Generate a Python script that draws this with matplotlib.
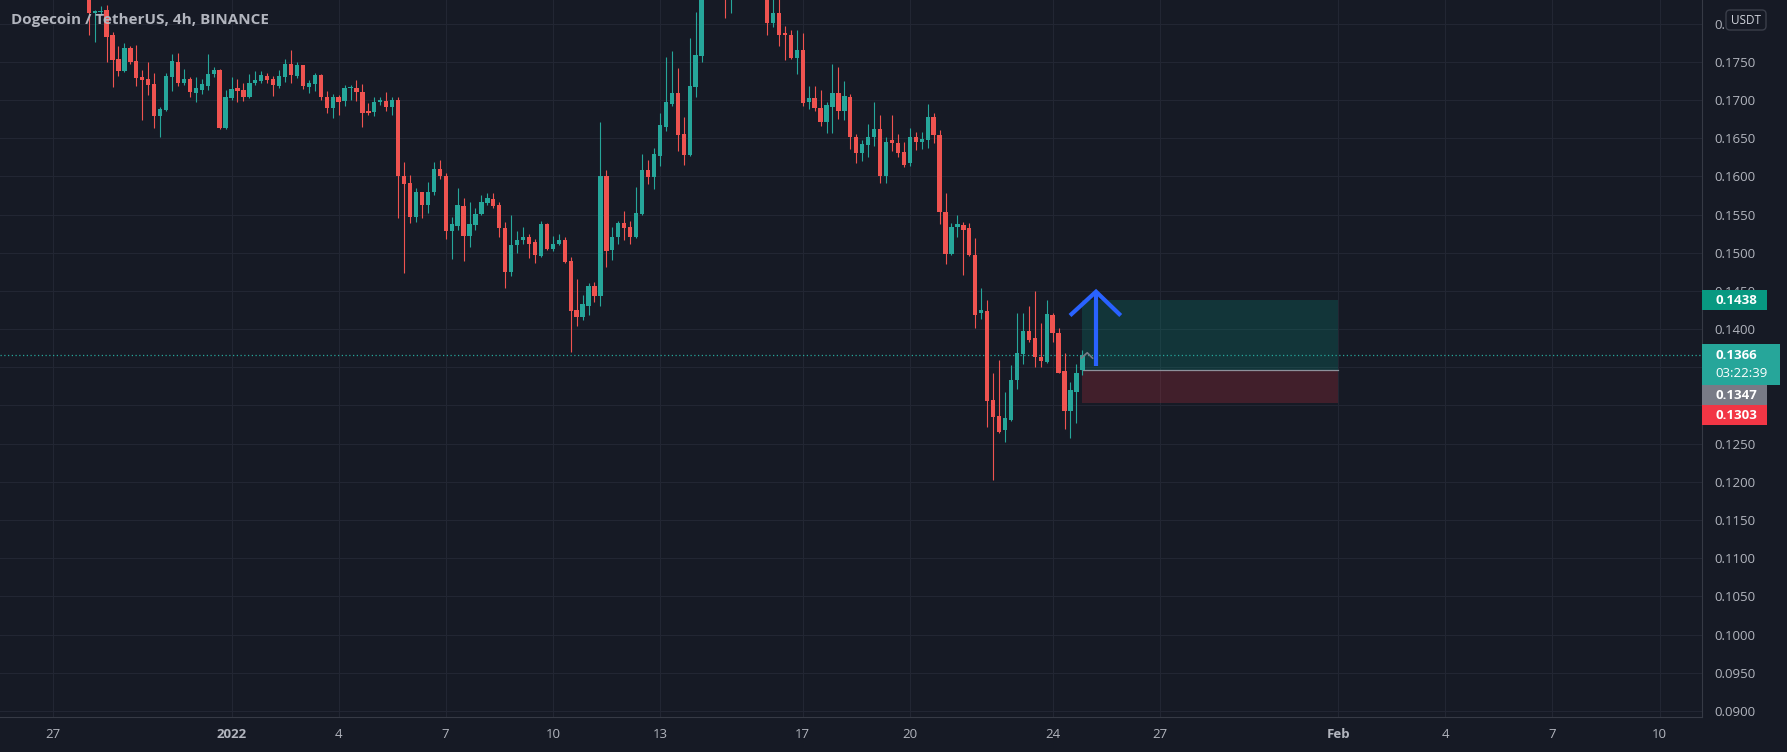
import numpy as np
import pandas as pd
import matplotlib
matplotlib.use("Agg")
import matplotlib.pyplot as plt
from matplotlib.patches import Rectangle, FancyBboxPatch

# ---------------- data (DOGE/USDT 4h, BINANCE) ----------------
first_bar = "2021-12-28 00:00"
opens = [0.1850, 0.1814, 0.1815, 0.1818, 0.1785, 0.1754, 0.1738, 0.1768, 0.1751, 0.1730,
         0.1727, 0.1721, 0.1679, 0.1687, 0.1730, 0.1750, 0.1722, 0.1727, 0.1709, 0.1713,
         0.1718, 0.1734, 0.1739, 0.1663, 0.1702, 0.1716, 0.1713, 0.1704, 0.1722, 0.1725,
         0.1731, 0.1727, 0.1718, 0.1730, 0.1747, 0.1731, 0.1746, 0.1717, 0.1721, 0.1733,
         0.1704, 0.1690, 0.1704, 0.1698, 0.1716, 0.1716, 0.1710, 0.1685, 0.1684, 0.1697,
         0.1699, 0.1691, 0.1700, 0.1600, 0.1591, 0.1547, 0.1580, 0.1562, 0.1579, 0.1610,
         0.1600, 0.1529, 0.1535, 0.1561, 0.1522, 0.1536, 0.1551, 0.1565, 0.1570, 0.1563,
         0.1532, 0.1475, 0.1510, 0.1516, 0.1520, 0.1514, 0.1496, 0.1538, 0.1505, 0.1512,
         0.1517, 0.1489, 0.1425, 0.1416, 0.1430, 0.1456, 0.1443, 0.1600, 0.1503, 0.1520,
         0.1539, 0.1533, 0.1520, 0.1551, 0.1608, 0.1599, 0.1627, 0.1665, 0.1695, 0.1709,
         0.1655, 0.1628, 0.1717, 0.1758, 0.1905, 0.1990, 0.1960, 0.1925, 0.1870, 0.1920,
         0.1900, 0.1930, 0.1910, 0.1880, 0.1870, 0.1801, 0.1814, 0.1787, 0.1785, 0.1755,
         0.1766, 0.1697, 0.1703, 0.1689, 0.1671, 0.1691, 0.1709, 0.1686, 0.1704, 0.1651,
         0.1631, 0.1641, 0.1652, 0.1662, 0.1600, 0.1648, 0.1643, 0.1632, 0.1617, 0.1651,
         0.1645, 0.1647, 0.1677, 0.1654, 0.1553, 0.1498, 0.1534, 0.1536, 0.1532, 0.1497,
         0.1421, 0.1424, 0.1307, 0.1286, 0.1268, 0.1281, 0.1333, 0.1367, 0.1398, 0.1388,
         0.1364, 0.1357, 0.1419, 0.1395, 0.1345, 0.1293, 0.1318, 0.1346]
highs = [0.1870, 0.1818, 0.1823, 0.1824, 0.1789, 0.1770, 0.1774, 0.1770, 0.1772, 0.1739,
         0.1750, 0.1735, 0.1691, 0.1735, 0.1760, 0.1761, 0.1740, 0.1730, 0.1730, 0.1727,
         0.1760, 0.1743, 0.1740, 0.1713, 0.1730, 0.1727, 0.1722, 0.1734, 0.1738, 0.1738,
         0.1735, 0.1731, 0.1739, 0.1753, 0.1765, 0.1750, 0.1746, 0.1726, 0.1735, 0.1734,
         0.1712, 0.1708, 0.1707, 0.1720, 0.1720, 0.1726, 0.1721, 0.1696, 0.1704, 0.1704,
         0.1711, 0.1704, 0.1704, 0.1619, 0.1602, 0.1585, 0.1580, 0.1593, 0.1619, 0.1621,
         0.1604, 0.1547, 0.1585, 0.1572, 0.1566, 0.1558, 0.1576, 0.1578, 0.1578, 0.1566,
         0.1540, 0.1550, 0.1528, 0.1534, 0.1525, 0.1518, 0.1541, 0.1539, 0.1522, 0.1524,
         0.1520, 0.1494, 0.1465, 0.1445, 0.1460, 0.1462, 0.1671, 0.1608, 0.1533, 0.1542,
         0.1555, 0.1541, 0.1586, 0.1629, 0.1621, 0.1637, 0.1683, 0.1756, 0.1764, 0.1742,
         0.1678, 0.1781, 0.1815, 0.1935, 0.2030, 0.2060, 0.1990, 0.1960, 0.1950, 0.1960,
         0.1950, 0.1970, 0.1940, 0.1920, 0.1890, 0.1840, 0.1840, 0.1797, 0.1792, 0.1791,
         0.1788, 0.1718, 0.1718, 0.1713, 0.1697, 0.1747, 0.1743, 0.1725, 0.1708, 0.1655,
         0.1647, 0.1668, 0.1697, 0.1680, 0.1652, 0.1680, 0.1655, 0.1645, 0.1663, 0.1658,
         0.1658, 0.1695, 0.1683, 0.1660, 0.1578, 0.1539, 0.1549, 0.1540, 0.1539, 0.1519,
         0.1454, 0.1438, 0.1343, 0.1360, 0.1317, 0.1353, 0.1421, 0.1421, 0.1430, 0.1450,
         0.1408, 0.1438, 0.1421, 0.1401, 0.1369, 0.1331, 0.1354, 0.1373]
lows = [0.1785, 0.1776, 0.1811, 0.1750, 0.1717, 0.1731, 0.1737, 0.1747, 0.1718, 0.1674,
        0.1707, 0.1663, 0.1652, 0.1686, 0.1712, 0.1718, 0.1720, 0.1704, 0.1697, 0.1708,
        0.1713, 0.1730, 0.1662, 0.1662, 0.1700, 0.1697, 0.1699, 0.1703, 0.1719, 0.1722,
        0.1722, 0.1705, 0.1715, 0.1723, 0.1722, 0.1729, 0.1714, 0.1709, 0.1712, 0.1700,
        0.1683, 0.1676, 0.1680, 0.1692, 0.1700, 0.1699, 0.1665, 0.1680, 0.1679, 0.1694,
        0.1685, 0.1680, 0.1545, 0.1473, 0.1539, 0.1540, 0.1545, 0.1552, 0.1576, 0.1597,
        0.1518, 0.1492, 0.1530, 0.1489, 0.1508, 0.1530, 0.1549, 0.1562, 0.1559, 0.1520,
        0.1454, 0.1470, 0.1500, 0.1512, 0.1493, 0.1487, 0.1495, 0.1503, 0.1502, 0.1510,
        0.1487, 0.1370, 0.1404, 0.1412, 0.1418, 0.1436, 0.1430, 0.1481, 0.1491, 0.1511,
        0.1516, 0.1512, 0.1519, 0.1549, 0.1590, 0.1583, 0.1614, 0.1659, 0.1692, 0.1633,
        0.1615, 0.1627, 0.1704, 0.1749, 0.1880, 0.1940, 0.1900, 0.1807, 0.1814, 0.1880,
        0.1870, 0.1900, 0.1860, 0.1850, 0.1785, 0.1796, 0.1770, 0.1752, 0.1753, 0.1734,
        0.1692, 0.1688, 0.1686, 0.1666, 0.1657, 0.1657, 0.1675, 0.1674, 0.1636, 0.1618,
        0.1620, 0.1625, 0.1640, 0.1591, 0.1591, 0.1633, 0.1625, 0.1612, 0.1613, 0.1635,
        0.1636, 0.1637, 0.1643, 0.1538, 0.1485, 0.1497, 0.1520, 0.1471, 0.1496, 0.1401,
        0.1413, 0.1272, 0.1202, 0.1264, 0.1252, 0.1280, 0.1322, 0.1354, 0.1383, 0.1350,
        0.1350, 0.1356, 0.1383, 0.1343, 0.1269, 0.1257, 0.1277, 0.1340]
closes = [0.1814, 0.1816, 0.1817, 0.1783, 0.1752, 0.1738, 0.1768, 0.1750, 0.1729, 0.1726,
          0.1719, 0.1679, 0.1688, 0.1731, 0.1751, 0.1722, 0.1727, 0.1711, 0.1715, 0.1721,
          0.1734, 0.1739, 0.1663, 0.1704, 0.1714, 0.1712, 0.1704, 0.1722, 0.1726, 0.1733,
          0.1726, 0.1720, 0.1731, 0.1747, 0.1733, 0.1746, 0.1718, 0.1722, 0.1733, 0.1704,
          0.1690, 0.1704, 0.1697, 0.1715, 0.1717, 0.1710, 0.1683, 0.1683, 0.1697, 0.1700,
          0.1691, 0.1700, 0.1600, 0.1590, 0.1547, 0.1580, 0.1563, 0.1580, 0.1610, 0.1600,
          0.1529, 0.1538, 0.1563, 0.1522, 0.1538, 0.1551, 0.1566, 0.1572, 0.1561, 0.1532,
          0.1475, 0.1510, 0.1517, 0.1520, 0.1512, 0.1497, 0.1538, 0.1505, 0.1512, 0.1517,
          0.1488, 0.1424, 0.1416, 0.1433, 0.1456, 0.1443, 0.1600, 0.1502, 0.1520, 0.1539,
          0.1532, 0.1520, 0.1552, 0.1608, 0.1599, 0.1629, 0.1667, 0.1697, 0.1709, 0.1654,
          0.1628, 0.1718, 0.1759, 0.1905, 0.1990, 0.1960, 0.1925, 0.1870, 0.1920, 0.1900,
          0.1930, 0.1910, 0.1880, 0.1870, 0.1801, 0.1814, 0.1785, 0.1785, 0.1755, 0.1766,
          0.1696, 0.1702, 0.1689, 0.1671, 0.1693, 0.1709, 0.1686, 0.1705, 0.1651, 0.1631,
          0.1642, 0.1652, 0.1662, 0.1600, 0.1645, 0.1643, 0.1631, 0.1615, 0.1651, 0.1645,
          0.1649, 0.1677, 0.1654, 0.1553, 0.1498, 0.1534, 0.1538, 0.1530, 0.1497, 0.1418,
          0.1425, 0.1306, 0.1285, 0.1265, 0.1283, 0.1333, 0.1369, 0.1398, 0.1386, 0.1364,
          0.1358, 0.1420, 0.1395, 0.1343, 0.1293, 0.1320, 0.1343, 0.1366]

# long-position tool
entry_price = 0.1347
target_price = 0.1438
stop_price = 0.1303
current_price = 0.1366
countdown = "03:22:39"
position_end = "2022-02-01 00:00"

# axis labels (0.1300 / 0.1350 sit behind the price badges, so they carry no text)
price_ticks = [0.0900, 0.0950, 0.1000, 0.1050, 0.1100, 0.1150, 0.1200, 0.1250, 0.1300,
               0.1350, 0.1400, 0.1450, 0.1500, 0.1550, 0.1600, 0.1650, 0.1700, 0.1750, 0.1800]
hidden_ticks = [0.1300, 0.1350]
date_ticks = ["2021-12-27", "2022-01-01", "2022-01-04", "2022-01-07", "2022-01-10",
              "2022-01-13", "2022-01-17", "2022-01-20", "2022-01-24", "2022-01-27",
              "2022-02-01", "2022-02-04", "2022-02-07", "2022-02-10"]
date_labels = ["27", "2022", "4", "7", "10", "13", "17", "20", "24", "27",
               "Feb", "4", "7", "10"]
bold_labels = {"2022", "Feb"}
title = "Dogecoin / TetherUS, 4h, BINANCE"
currency = "USDT"

# ---------------- styling ----------------
BG = "#161a25"
GRID = "#222633"
TXT = "#b2b5be"
UP = "#26a69a"
DOWN = "#ef5350"
FONT = ["Open Sans", "DejaVu Sans"]

W, H = 1787, 752
fig = plt.figure(figsize=(W / 100, H / 100), dpi=100, facecolor=BG)
AX_R = 1702
AX_B = 35
ax = fig.add_axes([0, AX_B / H, AX_R / W, (H - AX_B) / H])
ax.set_facecolor(BG)

ref = pd.Timestamp("2022-01-01")
def to_day(ts):
    return (pd.Timestamp(ts) - ref) / pd.Timedelta(days=1)

times = pd.date_range(first_bar, periods=len(opens), freq="4h")
x = np.asarray((times - ref) / pd.Timedelta(days=1), dtype=float)
o = np.array(opens); h = np.array(highs); l = np.array(lows); c = np.array(closes)
up = c >= o
cols = np.where(up, UP, DOWN)
bar_w = (4 / 24) * 0.72

ax.vlines(x, l, h, colors=cols, linewidth=0.8, zorder=3)
body_bottom = np.minimum(o, c)
body_h = np.maximum(np.abs(c - o), 0.00012)
ax.bar(x, body_h, bottom=body_bottom, width=bar_w, color=cols, linewidth=0, zorder=4)

ax.set_xlim(-6.485, 41.19)
ax.set_ylim(0.08922, 0.18308)

# ticks and grid
tick_days = [to_day(d) for d in date_ticks]
ax.set_xticks(tick_days)
ax.set_xticklabels(date_labels)
for lab, txt in zip(ax.get_xticklabels(), date_labels):
    lab.set_fontweight("bold" if txt in bold_labels else "normal")
ax.set_yticks(price_ticks)
ax.set_yticklabels(["" if any(abs(p - q) < 1e-9 for q in hidden_ticks) else f"{p:.4f}"
                    for p in price_ticks])
ax.yaxis.tick_right()
ax.tick_params(axis="both", length=0, colors=TXT, labelsize=9.5)
ax.tick_params(axis="x", pad=8)
ax.tick_params(axis="y", pad=9)
for lab in ax.get_xticklabels() + ax.get_yticklabels():
    lab.set_fontfamily(FONT)
ax.grid(True, color=GRID, linewidth=0.8, zorder=0)
ax.set_axisbelow(True)
for s in ["top", "left"]:
    ax.spines[s].set_visible(False)
for s in ["right", "bottom"]:
    ax.spines[s].set_color("#363a45")
    ax.spines[s].set_linewidth(0.8)

# long position tool
x0 = x[-1]
x1 = to_day(position_end)
ax.add_patch(Rectangle((x0, entry_price), x1 - x0, target_price - entry_price,
                       facecolor="#089981", alpha=0.22, edgecolor="none", zorder=2))
ax.add_patch(Rectangle((x0, stop_price), x1 - x0, entry_price - stop_price,
                       facecolor="#f23645", alpha=0.2, edgecolor="none", zorder=2))
ax.plot([x0, x1], [entry_price, entry_price], color="#8d909a", linewidth=0.9, zorder=2.5)

# current price dotted line
ax.axhline(current_price, color=UP, linestyle=(0, (1, 2)), linewidth=0.9, zorder=2.6)

# small grey chevron and blue arrow drawing
ax.plot([23.80, 23.97, 24.12], [0.1362, 0.1369, 0.1362], color="#787b86", lw=1.2, zorder=5)
arrow_x = [23.487, 24.216, 24.908]
arrow_y = [0.14178, 0.14490, 0.14178]
ax.plot(arrow_x, arrow_y, color="#2962ff", lw=3.0, solid_joinstyle="miter",
        solid_capstyle="butt", zorder=6)
ax.plot([24.216, 24.216], [0.14490, 0.13517], color="#2962ff", lw=3.0,
        solid_capstyle="butt", zorder=6)

# title
fig.text(11 / W, 1 - 20 / H, title, color=TXT, fontsize=11, fontweight="bold",
         family=FONT, ha="left", va="center")

# overlay in pixel coords (y from top)
ov = fig.add_axes([0, 0, 1, 1])
ov.set_xlim(0, W)
ov.set_ylim(H, 0)
ov.axis("off")
ov.set_zorder(10)
ov.patch.set_alpha(0)

def ypix(p):
    return H - ax.transData.transform((0, p))[1]

def price_box(yc, text, face, w=65, hgt=20, extra=None):
    ov.add_patch(Rectangle((AX_R, yc - hgt / 2), w, hgt if extra is None else hgt + 19,
                           facecolor=face, edgecolor="none"))
    ov.text(AX_R + 13, yc, text, color="white", fontsize=9.5, fontweight="bold",
            family=FONT, ha="left", va="center")
    if extra is not None:
        ov.text(AX_R + 13, yc + 18, extra, color="white", fontsize=9.5,
                family=FONT, ha="left", va="center")

price_box(ypix(target_price), f"{target_price:.4f}", "#089981")
yc_cur = ypix(current_price)
price_box(yc_cur, f"{current_price:.4f}", UP, w=78, hgt=22, extra=countdown)
y_after = yc_cur - 11 + 22 + 19
price_box(y_after + 10, f"{entry_price:.4f}", "#787b86")
price_box(max(ypix(stop_price), y_after + 20 + 10), f"{stop_price:.4f}", "#f23645")

# currency badge
ov.add_patch(FancyBboxPatch((1726, 10), 40, 20, boxstyle="round,pad=0,rounding_size=4",
                            facecolor=BG, edgecolor="#3a3e4a", linewidth=1))
ov.text(1746, 20.5, currency, color="#d1d4dc", fontsize=8.5, family=FONT,
        ha="center", va="center")

fig.savefig("out.png", dpi=100, facecolor=BG)
